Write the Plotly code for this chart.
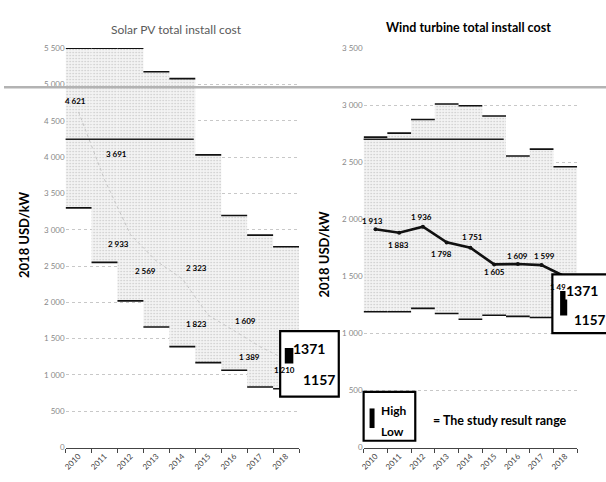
import plotly.graph_objects as go

# ---- data -------------------------------------------------------------
years = ["2010", "2011", "2012", "2013", "2014", "2015", "2016", "2017", "2018"]

solar_low = [3300, 2550, 2020, 1660, 1390, 1170, 1065, 835, 810]
solar_high = [5500, 5500, 5500, 5175, 5080, 4030, 3195, 2925, 2765]
solar_avg = [4621, 3691, 2933, 2569, 2323, 1823, 1609, 1389, 1210]

wind_low = [1190, 1190, 1220, 1175, 1125, 1160, 1150, 1140, 1110]
wind_high = [2720, 2755, 2875, 3010, 2995, 2905, 2555, 2615, 2460]
wind_avg = [1913, 1883, 1936, 1798, 1751, 1605, 1609, 1599, 1497]

study_low = 1157
study_high = 1371

# ---- page geometry helpers -------------------------------------------
W, H = 606, 482


def px(x):
    return x / W


def py(y):
    return 1 - y / H


FONT = "Lato"
idx = list(range(len(years)))


def fmt(v):
    return f"{v:,}".replace(",", " ")


def edge_segments(values):
    xs, ys = [], []
    for i, v in enumerate(values):
        xs += [i - 0.5, i + 0.5, None]
        ys += [v, v, None]
    return xs, ys


def note(x, y, text, font, **kw):
    d = dict(x=px(x), y=py(y), xref="paper", yref="paper", text=text, showarrow=False,
             xanchor="center", yanchor="middle", font=font)
    d.update(kw)
    return d


fig = go.Figure()

stipple = dict(shape=".", fgcolor="#8c8c8c", bgcolor="#f3f3f3", size=3, solidity=0.16)

for low, high, xa, ya in [(solar_low, solar_high, "x", "y"), (wind_low, wind_high, "x2", "y2")]:
    fig.add_trace(go.Bar(
        x=idx, y=[h - l for l, h in zip(low, high)], base=low, width=1,
        marker=dict(color="#f0f0f0", pattern=stipple, line=dict(width=0)),
        xaxis=xa, yaxis=ya, hoverinfo="skip",
    ))
    for vals in (high, low):
        ex, ey = edge_segments(vals)
        fig.add_trace(go.Scatter(
            x=ex, y=ey, mode="lines", line=dict(color="#111", width=1.6),
            xaxis=xa, yaxis=ya, hoverinfo="skip",
        ))

# weighted averages
fig.add_trace(go.Scatter(
    x=idx, y=solar_avg, mode="lines",
    line=dict(color="#c4c4c4", width=1, dash="dot"), xaxis="x", yaxis="y",
))
fig.add_trace(go.Scatter(
    x=idx, y=wind_avg, mode="lines+markers",
    line=dict(color="#111", width=2.6), marker=dict(color="#111", size=4),
    xaxis="x2", yaxis="y2",
))

annotations = []

# value labels (pixel offsets from each point)
solar_shift = [(-3, 11), (12, 25), (-12, -9), (-11, -10), (14, 11),
               (-12, -9), (11, 10), (-11, -10), (-2, -10)]
wind_shift = [(-3, 8), (-1, -12), (-1, 10), (-5, -12), (2, 11),
              (0, -8), (0, 8), (3, 9), (-5, -10)]
label_font = dict(family=FONT, size=8, color="#000", weight="bold")
for vals, shifts, xr, yr in [(solar_avg, solar_shift, "x", "y"), (wind_avg, wind_shift, "x2", "y2")]:
    for i, (v, (dx, dy)) in enumerate(zip(vals, shifts)):
        annotations.append(dict(
            x=i, y=v, xref=xr, yref=yr, text=fmt(v), showarrow=False,
            xanchor="center", yanchor="middle",
            xshift=dx, yshift=dy, font=label_font,
        ))

# titles
annotations.append(note(174, 25, "Solar PV total install cost",
                        dict(family=FONT, size=12, color="#5a5a5a")))
annotations.append(note(468, 23, "Wind turbine total install cost",
                        dict(family=FONT, size=12.5, color="#000", weight="bold")))
for xx, yy in [(20, 235), (322, 255)]:
    annotations.append(note(xx, yy, "2018 USD/kW",
                            dict(family=FONT, size=13, color="#000", weight="bold"), textangle=-90))

# study range call-outs
box_font = dict(family=FONT, size=14, color="#000", weight="bold")
annotations.append(note(307, 351, str(study_high), box_font))
annotations.append(note(317, 382, str(study_low), box_font))
annotations.append(note(582, 292, str(study_high), box_font, bgcolor="#fff", borderpad=0))
annotations.append(note(589, 322, str(study_low), dict(box_font, size=13.5)))

legend_font = dict(family=FONT, size=12, color="#000", weight="bold")
annotations.append(note(377, 414, "High", legend_font, xanchor="left"))
annotations.append(note(377, 436, "Low", legend_font, xanchor="left"))
annotations.append(note(430, 424, "= The study result range",
                        dict(family=FONT, size=12.5, color="#000", weight="bold"), xanchor="left"))

shapes = []
# light rule across the page
shapes.append(dict(type="line", xref="paper", yref="paper", x0=0, x1=1, y0=py(84), y1=py(84),
                   line=dict(color="#b3b3b3", width=2.5), layer="above"))
shapes.append(dict(type="line", xref="paper", yref="paper", x0=px(62), x1=px(191), y0=py(137), y1=py(137),
                   line=dict(color="#222", width=1.5), layer="above"))
shapes.append(dict(type="line", xref="paper", yref="paper", x0=px(362), x1=px(503), y0=py(137), y1=py(137),
                   line=dict(color="#222", width=1.5), layer="above"))

# framed boxes
for x0, x1, y0, y1 in [(278, 337, 333, 400), (552, 612, 275, 335), (362, 414, 395, 445)]:
    shapes.append(dict(type="rect", xref="paper", yref="paper",
                       x0=px(x0), x1=px(x1), y0=py(y1), y1=py(y0),
                       fillcolor="#fff", line=dict(color="#000", width=2.2), layer="above"))

# study range bars
shapes.append(dict(type="rect", xref="x", yref="y", x0=7.95, x1=8.28, y0=study_low, y1=study_high,
                   fillcolor="#000", line=dict(width=0), layer="above"))
shapes.append(dict(type="rect", xref="x2", yref="y2", x0=7.78, x1=8.08, y0=study_low, y1=study_high,
                   fillcolor="#000", line=dict(width=0), layer="above"))
shapes.append(dict(type="rect", xref="paper", yref="paper", x0=px(368), x1=px(373), y0=py(432), y1=py(412),
                   fillcolor="#000", line=dict(width=0), layer="above"))

xaxis_common = dict(
    range=[-0.5, 8.5], tickmode="array", tickvals=idx, ticktext=years, tickangle=-45,
    ticks="", showgrid=False, zeroline=False, showline=True, linecolor="#444", linewidth=1,
    tickfont=dict(family=FONT, size=8, color="#444"),
    minor=dict(tickmode="array", tickvals=[i - 0.5 for i in range(10)], ticks="outside",
               ticklen=4, tickcolor="#444", showgrid=False),
)
yaxis_common = dict(
    dtick=500, tickformat=",d", showgrid=True, gridcolor="#c8c8c8", griddash="dot",
    zeroline=False, ticks="", tickfont=dict(family=FONT, size=8, color="#888"),
    domain=[py(452), py(44)],
)

fig.update_layout(
    width=W, height=H, margin=dict(l=0, r=0, t=0, b=0),
    paper_bgcolor="#fff", plot_bgcolor="#fff", showlegend=False,
    separators=". ", barmode="overlay",
    xaxis=dict(domain=[px(62), px(297)], anchor="y", **xaxis_common),
    xaxis2=dict(domain=[px(362), px(577)], anchor="y2", **xaxis_common),
    yaxis=dict(range=[0, 5500], anchor="x", **yaxis_common),
    yaxis2=dict(range=[0, 3500], anchor="x2", **yaxis_common),
    annotations=annotations, shapes=shapes,
)

fig.write_html("out.html")
